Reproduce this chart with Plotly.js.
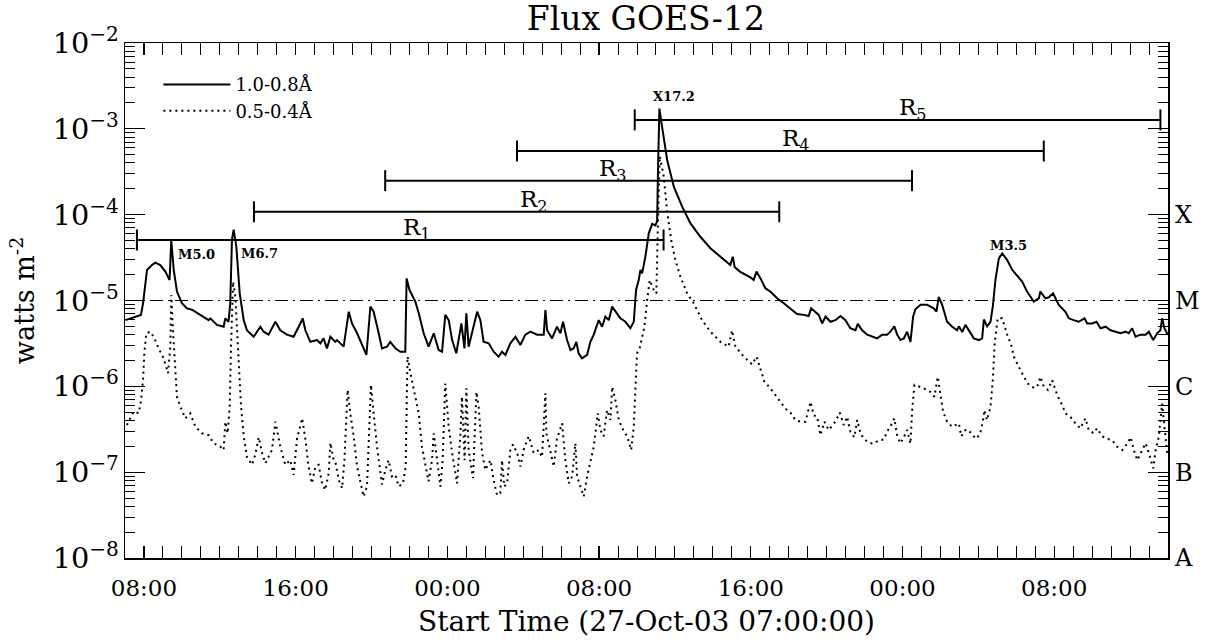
<!DOCTYPE html>
<html><head><meta charset="utf-8">
<script src="https://cdn.plot.ly/plotly-3.0.1.min.js"></script>
<style>html,body{margin:0;padding:0;background:#fff}#chart{width:1205px;height:643px}</style>
</head><body><div id="chart"></div>
<script>
// time origin: 27-Oct-03 07:00:00 UT, hours after it
const startTime = Date.UTC(2003, 9, 27, 7, 0, 0);
const plotHours = [0, 55];

// GOES-12 1.0-8.0 Å channel (W m^-2)
const longHours = [0.02,0.28,0.63,0.84,0.95,1.07,1.16,1.42,1.6,1.86,2.13,2.35,2.44,2.57,2.74,3.0,3.27,3.53,3.97,4.41,4.5,4.85,5.2,5.29,5.46,5.55,5.64,5.73,5.87,6.05,6.26,6.43,6.78,7.14,7.31,7.57,7.93,8.19,8.54,8.89,9.16,9.37,9.51,9.77,10.13,10.3,10.47,10.65,10.83,11.09,11.18,11.53,11.8,11.97,12.24,12.5,12.73,12.94,13.11,13.38,13.55,13.82,13.99,14.26,14.52,14.78,14.85,15.0,15.31,15.49,15.75,16.01,16.28,16.54,16.72,16.89,17.07,17.25,17.47,17.74,17.9,18.0,18.12,18.57,18.74,18.91,19.18,19.44,19.7,19.88,20.06,20.32,20.59,20.85,21.11,21.38,21.73,22.08,22.17,22.26,22.52,22.78,22.96,23.1,23.31,23.49,23.66,23.8,23.92,24.1,24.37,24.54,24.72,24.98,25.16,25.33,25.51,25.69,25.86,26.12,26.39,26.65,26.83,26.95,27.09,27.18,27.27,27.44,27.62,27.8,27.97,28.06,28.11,28.18,28.32,28.59,28.94,29.38,29.82,30.34,30.87,31.49,31.92,32.05,32.15,32.45,32.8,33.0,33.15,33.3,33.51,33.77,34.03,34.39,34.74,35.09,35.44,35.79,36.05,36.18,36.41,36.58,36.76,36.94,37.2,37.46,37.73,37.99,38.25,38.52,38.64,38.87,39.14,39.4,39.66,39.93,40.19,40.36,40.57,40.72,40.89,41.07,41.24,41.42,41.56,41.68,41.95,42.3,42.65,42.79,42.91,43.09,43.35,43.62,43.88,43.97,44.15,44.32,44.49,44.76,45.02,45.2,45.29,45.46,45.64,45.76,45.9,46.08,46.26,46.52,46.79,47.13,47.31,47.57,47.92,48.19,48.27,48.54,48.71,48.94,49.24,49.59,49.77,50.03,50.29,50.6,50.74,51.0,51.23,51.44,51.71,51.97,52.23,52.5,52.76,52.93,53.11,53.29,53.55,53.82,53.99,54.22,54.43,54.6,54.69,54.81,54.99];
const longFlux = [5.9e-6,6.2e-6,6.5e-6,6.8e-6,9.2e-6,1.73e-5,2.27e-5,2.59e-5,2.76e-5,2.59e-5,2.17e-5,1.73e-5,5.0e-5,2.27e-5,1.27e-5,9.3e-6,8.1e-6,7.8e-6,6.8e-6,5.9e-6,6.2e-6,5.2e-6,4.95e-6,6.2e-6,5.65e-6,9.3e-6,5.1e-5,6.7e-5,4.24e-5,1.21e-5,5.9e-6,4.5e-6,3.78e-6,4.95e-6,4.33e-6,4.0e-6,5.65e-6,4.5e-6,4.0e-6,3.78e-6,4.95e-6,6.2e-6,4.5e-6,3.3e-6,3.46e-6,3.17e-6,3.62e-6,2.77e-6,3.78e-6,3.3e-6,3.46e-6,2.9e-6,7.4e-6,5.4e-6,4.15e-6,3.03e-6,2.32e-6,8.5e-6,7.4e-6,4.15e-6,2.77e-6,2.9e-6,3.3e-6,2.77e-6,2.53e-6,2.53e-6,1.81e-5,1.33e-5,9.7e-6,7.1e-6,4.15e-6,2.9e-6,4.15e-6,2.65e-6,2.53e-6,6.8e-6,5.9e-6,3.46e-6,2.43e-6,5.4e-6,2.77e-6,7.1e-6,2.9e-6,7.4e-6,5.9e-6,3.3e-6,3.17e-6,2.53e-6,2.22e-6,2.53e-6,2.32e-6,3.17e-6,3.78e-6,3.03e-6,4.0e-6,4.33e-6,4.0e-6,4.0e-6,7.75e-6,4.5e-6,3.62e-6,4.95e-6,4.15e-6,5.65e-6,3.46e-6,2.65e-6,2.77e-6,3.3e-6,2.43e-6,2.12e-6,2.32e-6,3.3e-6,4.0e-6,5.9e-6,4.95e-6,6.5e-6,5.9e-6,8.5e-6,7.4e-6,6.2e-6,5.65e-6,4.75e-6,5.65e-6,1.33e-5,1.73e-5,2.27e-5,2.07e-5,3.24e-5,6.06e-5,7.8e-5,7.5e-5,8.4e-5,3.62e-4,1.72e-3,1.06e-3,4.34e-4,2.12e-4,1.24e-4,7.92e-5,5.53e-5,4.06e-5,3.1e-5,2.59e-5,3.24e-5,2.45e-5,2.15e-5,1.98e-5,1.85e-5,1.73e-5,2.17e-5,1.81e-5,1.39e-5,1.27e-5,1.06e-5,9.3e-6,8.1e-6,6.96e-6,6.8e-6,6.6e-6,8.1e-6,7.4e-6,6.8e-6,5.4e-6,6.5e-6,5.65e-6,5.9e-6,6.6e-6,5.9e-6,4.75e-6,4.5e-6,5.35e-6,4.5e-6,4.0e-6,3.78e-6,3.62e-6,4.0e-6,4.0e-6,4.33e-6,5.0e-6,4.0e-6,3.46e-6,3.62e-6,4.33e-6,3.3e-6,6.5e-6,7.9e-6,8.9e-6,8.9e-6,8.1e-6,7.4e-6,1.1e-5,8.9e-6,5.65e-6,4.95e-6,4.5e-6,5.0e-6,4.3e-6,5.2e-6,4.5e-6,3.62e-6,3.46e-6,3.62e-6,6.0e-6,5.0e-6,5.65e-6,8.5e-6,1.73e-5,3.1e-5,3.54e-5,2.96e-5,2.27e-5,1.81e-5,1.66e-5,1.27e-5,9.7e-6,1.06e-5,1.27e-5,1.06e-5,1.09e-5,1.21e-5,8.9e-6,7.4e-6,6.2e-6,5.9e-6,5.65e-6,6.2e-6,5.4e-6,5.4e-6,5.65e-6,4.75e-6,4.95e-6,4.5e-6,4.33e-6,4.15e-6,4.33e-6,4.15e-6,4.75e-6,3.78e-6,4.0e-6,4.0e-6,4.33e-6,3.46e-6,4.15e-6,4.5e-6,6.2e-6,4.75e-6,4.0e-6];

// GOES-12 0.5-4.0 Å channel (W m^-2)
const shortHours = [0.1,0.45,0.72,0.84,0.95,1.02,1.12,1.33,1.51,1.77,2.04,2.27,2.39,2.44,2.53,2.62,2.74,2.92,3.18,3.44,3.71,4.06,4.41,4.67,5.03,5.2,5.29,5.41,5.52,5.59,5.7,5.82,5.9,5.99,6.12,6.26,6.43,6.7,6.87,7.05,7.23,7.4,7.75,7.93,8.19,8.45,8.72,8.89,9.07,9.34,9.51,9.68,9.86,10.04,10.21,10.39,10.56,10.74,10.83,11.0,11.1,11.27,11.45,11.57,11.66,11.74,11.88,12.06,12.24,12.41,12.58,12.76,12.85,12.97,13.11,13.29,13.55,13.73,13.9,14.08,14.26,14.43,14.66,14.8,14.87,14.9,15.05,15.31,15.49,15.66,15.84,16.01,16.19,16.28,16.46,16.63,16.75,16.89,17.07,17.25,17.51,17.68,17.77,17.91,18.0,18.12,18.35,18.53,18.65,18.83,19.0,19.27,19.44,19.62,19.79,19.88,20.0,20.15,20.32,20.46,20.68,20.85,21.02,21.29,21.55,21.81,21.99,22.17,22.22,22.43,22.61,22.78,23.05,23.22,23.4,23.58,23.75,23.84,24.02,24.19,24.37,24.54,24.72,24.93,25.07,25.24,25.42,25.6,25.69,25.86,26.04,26.27,26.48,26.69,26.83,26.92,27.0,27.14,27.27,27.39,27.53,27.67,27.88,28.02,28.09,28.2,28.41,28.59,28.8,29.02,29.29,29.64,29.99,30.43,30.87,31.4,31.83,32.01,32.19,32.63,33.07,33.3,33.47,33.72,34.03,34.3,34.56,34.83,35.09,35.35,35.62,35.88,36.15,36.32,36.5,36.67,36.88,37.11,37.46,37.69,37.9,38.08,38.25,38.46,38.61,38.78,38.96,39.22,39.48,39.75,40.01,40.19,40.4,40.57,40.72,40.89,41.07,41.24,41.42,41.51,41.63,41.86,42.12,42.47,42.68,42.86,43.0,43.14,43.35,43.62,43.97,44.1,44.32,44.49,44.67,44.9,45.1,45.25,45.32,45.46,45.64,45.76,45.86,46.02,46.26,46.52,46.73,46.87,47.13,47.4,47.66,47.96,48.14,48.27,48.45,48.66,48.89,49.16,49.42,49.59,49.85,50.12,50.38,50.64,50.82,51.08,51.26,51.53,51.79,52.06,52.32,52.58,52.85,53.03,53.2,53.38,53.64,53.82,53.99,54.22,54.35,54.52,54.6,54.69,54.81,54.96];
const shortFlux = [3.54e-7,5.06e-7,4.87e-7,6.6e-7,1.18e-6,2.43e-6,4.15e-6,4.33e-6,3.78e-6,2.77e-6,2.12e-6,1.42e-6,2.9e-6,1.16e-5,4.5e-6,2.03e-6,7.56e-7,5.79e-7,4.24e-7,4.85e-7,3.38e-7,2.84e-7,2.7e-7,2.17e-7,1.98e-7,1.81e-7,3.87e-7,2.84e-7,5.79e-7,2.9e-6,1.66e-5,1.1e-5,4.5e-6,1.85e-6,5.79e-7,2.62e-7,1.5e-7,1.22e-7,1.6e-7,2.55e-7,1.67e-7,1.27e-7,1.81e-7,3.87e-7,1.98e-7,1.22e-7,1.38e-7,9.3e-8,2.45e-7,4.24e-7,2.45e-7,1.16e-7,7.4e-8,1.16e-7,1.22e-7,7.4e-8,6.2e-8,9.7e-8,2.2e-7,1.38e-7,1.3e-7,8.1e-8,6.5e-8,1.38e-7,4.42e-7,9.1e-7,4.85e-7,2.62e-7,1.16e-7,8.1e-8,5.2e-8,6.8e-8,2.84e-7,1.04e-6,4.85e-7,1.98e-7,7.2e-8,1.06e-7,1.38e-7,8.9e-8,9.3e-8,6.8e-8,7.4e-8,1.16e-7,9.9e-7,2.22e-6,1.42e-6,7.9e-7,4.85e-7,1.98e-7,1.16e-7,7.8e-8,1.38e-7,2.84e-7,1.38e-7,6.8e-8,1.38e-7,1.08e-6,3.38e-7,1.67e-7,7.4e-8,2.62e-7,7.56e-7,1.38e-7,9.5e-7,1.81e-7,8.5e-8,8.6e-7,5.79e-7,1.67e-7,1.06e-7,1.38e-7,8.1e-8,5.4e-8,5.7e-8,1.38e-7,6.8e-8,7.4e-8,1.81e-7,2.1e-7,1.67e-7,1.16e-7,1.81e-7,2.62e-7,1.67e-7,1.81e-7,1.5e-7,8.3e-7,2.84e-7,1.67e-7,1.16e-7,2.45e-7,3.7e-7,1.38e-7,7.4e-8,8.9e-8,2.17e-7,8.9e-8,6.8e-8,5.2e-8,8.9e-8,1.38e-7,1.98e-7,4.85e-7,3.1e-7,2.62e-7,5.3e-7,4.05e-7,9.9e-7,6.9e-7,4.05e-7,3.1e-7,2.62e-7,1.81e-7,3.38e-7,9.9e-7,2.43e-6,2.77e-6,3.78e-6,4.95e-6,1.0e-5,1.73e-5,1.33e-5,1.21e-5,6.06e-5,4.8e-4,2.77e-4,1.08e-4,5.1e-5,2.96e-5,1.9e-5,1.21e-5,9.3e-6,5.9e-6,4.33e-6,3.3e-6,2.9e-6,4.5e-6,2.9e-6,2.22e-6,1.8e-6,2.22e-6,1.69e-6,1.13e-6,9.5e-7,7.9e-7,6.6e-7,5.5e-7,4.94e-7,4.05e-7,3.87e-7,3.87e-7,6.6e-7,4.6e-7,4.42e-7,2.7e-7,3.87e-7,3.1e-7,3.87e-7,4.94e-7,3.54e-7,4.42e-7,2.96e-7,2.55e-7,4.05e-7,2.84e-7,2.45e-7,2.2e-7,2.15e-7,2.35e-7,2.4e-7,2.96e-7,3.54e-7,4.24e-7,2.62e-7,2.17e-7,2.55e-7,3.1e-7,2.15e-7,5.3e-7,1.04e-6,9.9e-7,9.5e-7,8.6e-7,7.56e-7,1.29e-6,8.3e-7,5.06e-7,3.87e-7,3.38e-7,3.7e-7,2.62e-7,3.1e-7,3.1e-7,2.7e-7,2.45e-7,2.84e-7,4.05e-7,5.3e-7,4.05e-7,5.79e-7,1.18e-6,3.17e-6,6.2e-6,6.2e-6,4.0e-6,3.03e-6,2.22e-6,1.69e-6,1.29e-6,1.04e-6,9.5e-7,1.04e-6,1.29e-6,9.9e-7,9.1e-7,1.18e-6,7.9e-7,6.06e-7,4.85e-7,4.42e-7,3.7e-7,3.24e-7,4.24e-7,3.1e-7,2.84e-7,3.24e-7,2.62e-7,2.45e-7,2.35e-7,1.98e-7,1.81e-7,2.15e-7,2.55e-7,1.81e-7,1.38e-7,1.81e-7,2.17e-7,1.67e-7,1.11e-7,1.81e-7,2.62e-7,4.05e-7,6.3e-7,3.38e-7,1.67e-7];

// time windows R1..R5
const rangeNames = ['R<sub>1</sub>','R<sub>2</sub>','R<sub>3</sub>','R<sub>4</sub>','R<sub>5</sub>'];
const rangeStart = [0.63, 6.8, 13.72, 20.67, 26.88];
const rangeEnd = [28.4, 34.5, 41.5, 48.45, 54.6];
const rangeLevel = [5.07e-5, 1.08e-4, 2.49e-4, 5.52e-4, 1.27e-3];
const rangeLabelHour = [14.53, 20.7, 24.9, 34.56, 40.73];

// flare peaks
const flareNames = ['M5.0','M6.7','X17.2','M3.5'];
const flareHour = [2.44, 5.73, 28.18, 46.26];
const flareFlux = [5.0e-5, 6.7e-5, 1.72e-3, 3.54e-5];

// GOES class levels
const classNames = ['A','B','C','M','X'];
const classFlux = [1e-8, 1e-7, 1e-6, 1e-5, 1e-4];
const mClassFlux = 1e-5;

const seriesNames = ['1.0-0.8Å', '0.5-0.4Å'];

function toDate(h) {
  return new Date(startTime + h * 3600000).toISOString().replace('T', ' ').replace('Z', '');
}

const serif = 'DejaVu Serif, serif';
const traces = [];

traces.push({
  x: plotHours.map(toDate), y: [mClassFlux, mClassFlux], mode: 'lines', showlegend: false,
  hoverinfo: 'skip', line: {color: '#000', width: 1.2, dash: '13px,5px,2px,5px'}
});
traces.push({
  x: longHours.map(toDate), y: longFlux, name: seriesNames[0], mode: 'lines',
  line: {color: '#000', width: 2}
});
traces.push({
  x: shortHours.map(toDate), y: shortFlux, name: seriesNames[1], mode: 'lines',
  line: {color: '#000', width: 2, dash: '2px,4px'}
});
rangeStart.forEach((s, i) => {
  traces.push({
    x: [toDate(s), toDate(rangeEnd[i])], y: [rangeLevel[i], rangeLevel[i]],
    mode: 'lines+markers', showlegend: false, hoverinfo: 'skip',
    line: {color: '#000', width: 2},
    marker: {symbol: 'line-ns', size: 15, color: '#000', line: {color: '#000', width: 2}}
  });
});
// right-hand class axis carrier
traces.push({x: [toDate(plotHours[0])], y: [classFlux[0]], yaxis: 'y2', mode: 'markers',
  marker: {opacity: 0}, showlegend: false, hoverinfo: 'skip'});

const annotations = [];
rangeNames.forEach((n, i) => {
  annotations.push({x: toDate(rangeLabelHour[i]), y: Math.log10(rangeLevel[i]), text: n,
    showarrow: false, xanchor: 'left', yanchor: 'middle', yshift: 11,
    font: {family: serif, size: 23, color: '#000'}});
});
const flareShift = [[5, -14, 'left'], [5, -24, 'left'], [15, 12, 'center'], [6, 8, 'center']];
flareNames.forEach((n, i) => {
  annotations.push({x: toDate(flareHour[i]), y: Math.log10(flareFlux[i]), text: n,
    showarrow: false, xanchor: flareShift[i][2], yanchor: 'middle',
    xshift: flareShift[i][0], yshift: flareShift[i][1],
    font: {family: serif, size: 13, color: '#000', weight: 'bold'}});
});

const layout = {
  width: 1205, height: 643,
  margin: {l: 125, r: 37, t: 43, b: 85},
  paper_bgcolor: '#fff', plot_bgcolor: '#fff',
  font: {family: serif, color: '#000'},
  title: {text: 'Flux GOES-12', x: 0.536, xanchor: 'center', y: 0.972, yanchor: 'middle',
    font: {family: serif, size: 33, color: '#000'}},
  showlegend: true,
  legend: {x: 0.032, y: 0.955, xanchor: 'left', yanchor: 'top', bgcolor: 'rgba(0,0,0,0)',
    font: {family: serif, size: 18, color: '#000'}, itemwidth: 67, tracegroupgap: 0},
  xaxis: {
    type: 'date', range: plotHours.map(toDate), tickformat: '%H:%M',
    dtick: 8 * 3600000, tick0: '2003-10-27 00:00',
    ticks: 'inside', ticklen: 12, tickwidth: 1.2, tickcolor: '#000',
    minor: {dtick: 3600000, ticks: 'inside', ticklen: 6, tickwidth: 1, tickcolor: '#000'},
    showline: true, linecolor: '#000', linewidth: 1.5, mirror: 'allticks',
    showgrid: false, zeroline: false, ticklabelstandoff: 9,
    tickfont: {family: serif, size: 23, color: '#000'},
    title: {text: 'Start Time (27-Oct-03 07:00:00)', standoff: 11,
      font: {family: serif, size: 28, color: '#000'}}
  },
  yaxis: {
    type: 'log', range: [-8, -2], dtick: 1, exponentformat: 'power',
    ticks: 'inside', ticklen: 20, tickwidth: 1.2, tickcolor: '#000',
    minor: {dtick: 'D1', ticks: 'inside', ticklen: 10, tickwidth: 1, tickcolor: '#000'},
    showline: true, linecolor: '#000', linewidth: 1.5, mirror: 'allticks',
    showgrid: false, zeroline: false,
    tickfont: {family: serif, size: 23, color: '#000'},
    title: {text: 'watts m<sup>-2</sup>', standoff: 10,
      font: {family: serif, size: 27, color: '#000'}}
  },
  yaxis2: {
    type: 'log', range: [-8, -2], overlaying: 'y', side: 'right',
    tickvals: classFlux, ticktext: classNames, ticks: '', showline: false,
    showgrid: false, zeroline: false, ticklabelstandoff: 6,
    tickfont: {family: serif, size: 24, color: '#000'}
  },
  annotations: annotations
};

Plotly.newPlot('chart', traces, layout, {displayModeBar: false, staticPlot: true});
</script>
</body></html>
